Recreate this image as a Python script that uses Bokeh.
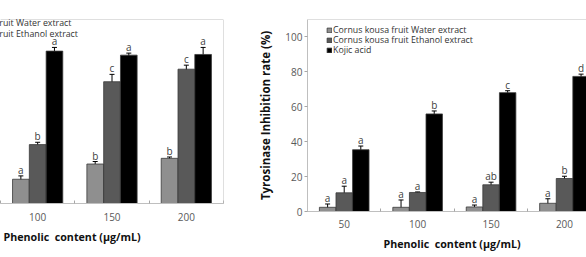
import numpy as np
from bokeh.plotting import figure
from bokeh.models import (Range1d, FixedTicker, Legend, LegendItem, Span, Whisker,
                          ColumnDataSource, TeeHead, Title)
from bokeh.layouts import row
from bokeh.embed import file_html
from bokeh.resources import INLINE
from bokeh.core.properties import value

# ---- data -------------------------------------------------------------
concentrations = ["50", "100", "150", "200"]
series_names = ["Cornus kousa fruit Water extract",
                "Cornus kousa fruit Ethanol extract",
                "Kojic acid"]

# first panel (groups 100-200 shown)
left_conc = ["100", "150", "200"]
left_water = [14.5, 23.6, 27.0]
left_water_sd = [2.0, 1.5, 0.8]
left_ethanol = [35.2, 72.8, 80.3]
left_ethanol_sd = [1.4, 4.4, 2.4]
left_kojic = [91.1, 88.7, 89.1]
left_kojic_sd = [2.2, 1.2, 4.2]
left_letters_water = ["a", "b", "b"]
left_letters_ethanol = ["b", "c", "c"]
left_letters_kojic = ["a", "a", "a"]

# tyrosinase inhibition panel
right_conc = ["50", "100", "150", "200"]
right_water = [2.4, 2.4, 2.6, 4.7]
right_water_sd = [1.9, 4.2, 1.1, 2.6]
right_ethanol = [10.7, 10.9, 15.3, 18.9]
right_ethanol_sd = [3.8, 0.3, 1.5, 1.3]
right_kojic = [35.4, 55.9, 68.1, 77.4]
right_kojic_sd = [2.1, 1.7, 1.1, 1.3]
right_letters_water = ["a", "a", "a", "a"]
right_letters_ethanol = ["a", "a", "ab", "b"]
right_letters_kojic = ["a", "b", "c", "d"]

y_ticks = [0, 20, 40, 60, 80, 100]
x_title = "Phenolic\u00a0 content (\u03bcg/mL)"
y_title = "Tyrosinase Inhibition rate (%)"

# ---- style ------------------------------------------------------------
FONT = "Open Sans"
COLORS = ["#8f8f8f", "#595959", "#000000"]
OUTLINE = "#3a3a3a"
AXIS_C = "#bfbfbf"
TICK_LABEL_C = "#595959"
OFFSETS = [-0.226, 0.0, 0.226]
BAR_W = 0.224
Y_MAX = 110
ROW_H = 12


def draw_groups(p, conc, series, letters):
    xs = np.array([concentrations.index(c) for c in conc], dtype=float)
    rends = []
    for k, ((vals, sds), color, lets) in enumerate(zip(series, COLORS, letters)):
        v = np.asarray(vals, dtype=float)
        s = np.asarray(sds, dtype=float)
        src = ColumnDataSource(dict(x=xs + OFFSETS[k], top=v, lo=v - s,
                                    hi=v + s, lab=lets))
        r = p.vbar(x="x", top="top", width=BAR_W, source=src,
                   fill_color=color, line_color=OUTLINE, line_width=0.8)
        p.add_layout(Whisker(base="x", lower="lo", upper="hi", source=src,
                             line_color="black", line_width=1,
                             upper_head=TeeHead(size=5, line_color="black", line_width=1),
                             lower_head=TeeHead(size=5, line_color="black", line_width=1)))
        p.text(x="x", y="hi", text="lab", source=src, text_align="center",
               text_baseline="alphabetic", y_offset=-6,
               text_font=value(FONT), text_font_size="10px", text_color="#404040")
        rends.append(r)
    return rends


def style_common(p, label_standoff):
    p.xgrid.visible = False
    p.ygrid.visible = False
    p.outline_line_color = None
    p.background_fill_color = "white"
    p.border_fill_color = "white"
    ax = p.xaxis[0]
    ax.ticker = FixedTicker(ticks=list(range(len(concentrations))),
                            minor_ticks=[i - 0.5 for i in range(len(concentrations) + 1)])
    ax.major_label_overrides = {i: c for i, c in enumerate(concentrations)}
    ax.major_tick_in = 0
    ax.major_tick_out = 0
    ax.minor_tick_in = 3
    ax.minor_tick_out = 0
    ax.minor_tick_line_color = "#a6a6a6"
    ax.axis_line_color = AXIS_C
    ax.major_label_standoff = label_standoff
    ax.major_label_text_font = FONT
    ax.major_label_text_font_size = "10px"
    ax.major_label_text_color = TICK_LABEL_C


def add_x_title(p, offset, standoff):
    p.add_layout(Title(text=x_title, align="left", offset=offset, standoff=standoff,
                       text_font=FONT, text_font_size="10.7px",
                       text_font_style="bold", text_color="#111111"), "below")


def add_legend_rows(p, rends, x, centers_from_top, frame_h):
    # one single-row legend per series, so that row spacing can be set exactly;
    # tuple locations give the lower-left corner measured from the frame's lower-left
    for name, r, c in zip(series_names, rends, centers_from_top):
        p.add_layout(Legend(items=[LegendItem(label=name, renderers=[r])],
                            location=(x, frame_h - c - ROW_H / 2),
                            border_line_color=None, background_fill_alpha=0,
                            padding=0, margin=0, spacing=0,
                            glyph_width=6, glyph_height=6, label_standoff=1,
                            label_height=ROW_H, label_text_font=FONT,
                            label_text_font_size="8.8px", label_text_color="#333333"))


TOP, BOT = 19, 46

# ---- first panel (partially shown) -----------------------------------
LW, LH, L_RIGHT = 240, 249, 17
left = figure(width=LW, height=LH, x_range=Range1d(0.5, 3.5), y_range=Range1d(0, Y_MAX),
              y_axis_location=None, toolbar_location=None, output_backend="svg",
              min_border_left=0, min_border_right=L_RIGHT,
              min_border_top=TOP, min_border_bottom=BOT)
style_common(left, 9)
lr = draw_groups(left, left_conc,
                 [(left_water, left_water_sd), (left_ethanol, left_ethanol_sd),
                  (left_kojic, left_kojic_sd)],
                 [left_letters_water, left_letters_ethanol, left_letters_kojic])
left_fh = LH - TOP - BOT
add_legend_rows(left, lr, -69, [4, 15, 26], left_fh)
add_x_title(left, 3, 8)
left.add_layout(Span(location=Y_MAX, dimension="width", line_color=AXIS_C, line_width=1))
left.add_layout(Span(location=3.5, dimension="height", line_color=AXIS_C, line_width=1))

# ---- tyrosinase inhibition panel -------------------------------------
RW, RH, R_LEFT = 586 - LW, 257, 67
right = figure(width=RW, height=RH, x_range=Range1d(-0.5, 3.3), y_range=Range1d(0, Y_MAX),
               toolbar_location=None, output_backend="svg",
               min_border_left=R_LEFT, min_border_right=0,
               min_border_top=TOP, min_border_bottom=BOT)
style_common(right, 8)
yax = right.yaxis[0]
yax.ticker = FixedTicker(ticks=y_ticks)
yax.major_tick_in = 0
yax.major_tick_out = 3
yax.minor_tick_line_color = None
yax.major_tick_line_color = "#a6a6a6"
yax.axis_line_color = AXIS_C
yax.major_label_standoff = 2
yax.major_label_text_font = FONT
yax.major_label_text_font_size = "10px"
yax.major_label_text_color = TICK_LABEL_C
yax.axis_label = y_title
yax.axis_label_standoff = 9
yax.axis_label_text_font = FONT
yax.axis_label_text_font_size = "11.5px"
yax.axis_label_text_font_style = "bold"
yax.axis_label_text_color = "#111111"
rr = draw_groups(right, right_conc,
                 [(right_water, right_water_sd), (right_ethanol, right_ethanol_sd),
                  (right_kojic, right_kojic_sd)],
                 [right_letters_water, right_letters_ethanol, right_letters_kojic])
right_fh = RH - TOP - BOT
add_legend_rows(right, rr, 19, [11.3, 21.3, 31.3], right_fh)
add_x_title(right, 76, 9)
right.add_layout(Span(location=Y_MAX, dimension="width", line_color=AXIS_C, line_width=1))

layout = row(left, right, spacing=0)
open("out.html", "w").write(file_html(layout, INLINE))
